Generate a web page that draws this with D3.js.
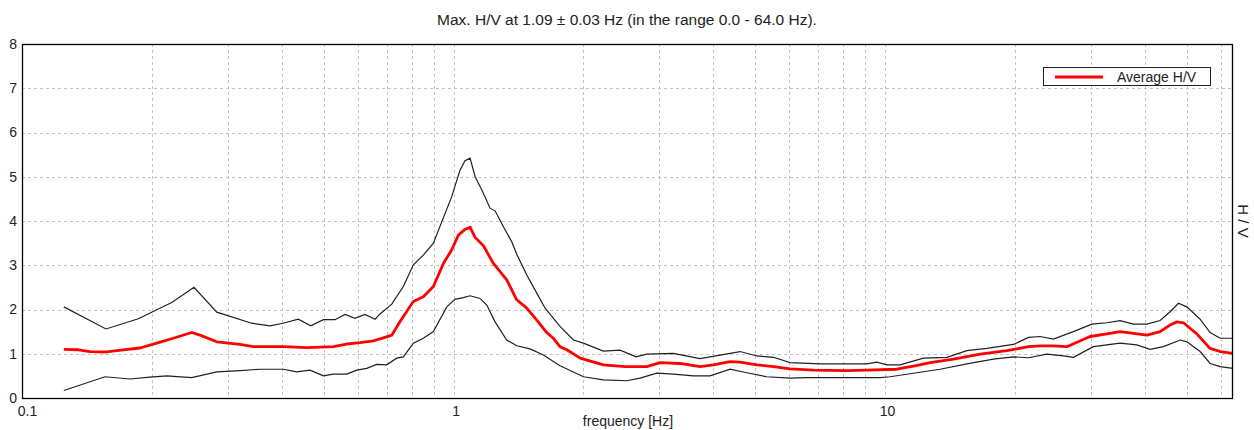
<!DOCTYPE html>
<html>
<head>
<meta charset="utf-8">
<script src="https://cdn.jsdelivr.net/npm/d3@7"></script>
<style>
  html, body { margin: 0; padding: 0; background: #fff; }
  svg { display: block; }
  text { font-family: "Liberation Sans", Arial, sans-serif; fill: #222; }
</style>
</head>
<body>
<svg id="chart" width="1254" height="430"></svg>
<script>
// ---- data ----
const titleText = "Max. H/V at 1.09 ± 0.03 Hz (in the range 0.0 - 64.0 Hz).";
const xLabel = "frequency [Hz]";
const yLabel = "H / V";
const legendLabel = "Average H/V";
const xTickValues = [0.1, 1, 10];
const xTickLabels = ["0.1", "1", "10"];
const yTickValues = [0, 1, 2, 3, 4, 5, 6, 7, 8];
const xGridValues = [0.2,0.3,0.4,0.5,0.6,0.7,0.8,0.9,1,2,3,4,5,6,7,8,9,10,20,30,40,50,60];
const yGridValues = [1, 2, 3, 4, 5, 6, 7];

const freqUpper = [0.125,0.1565,0.186,0.2223,0.2504,0.2827,0.3406,0.3755,0.4026,0.4368,0.4668,0.4993,0.5313,0.5604,0.591,0.6234,0.6578,0.6755,0.7192,0.765,0.8069,0.8511,0.898,0.939,0.9904,1.035,1.063,1.092,1.122,1.163,1.215,1.248,1.305,1.364,1.401,1.478,1.559,1.63,1.765,1.896,2.0,2.224,2.432,2.648,2.804,3.232,3.726,4.146,4.613,5.044,5.511,6.024,7.07,8.006,9.07,9.57,10.09,10.83,12.27,13.9,15.47,17.21,19.84,21.49,22.87,24.55,27.31,30.13,32.65,35.04,37.62,40.41,43.38,45.76,47.84,50.03,53.7,56.64,59.76,64];
const upper = [2.06,1.56,1.79,2.16,2.50,1.94,1.69,1.63,1.69,1.78,1.63,1.77,1.77,1.89,1.80,1.89,1.78,1.90,2.12,2.52,3.01,3.23,3.50,3.98,4.55,5.15,5.36,5.42,5.00,4.70,4.29,4.23,3.87,3.53,3.25,2.78,2.37,2.03,1.62,1.31,1.24,1.06,1.08,0.93,0.99,1.01,0.89,0.97,1.05,0.95,0.92,0.80,0.77,0.77,0.77,0.81,0.75,0.75,0.90,0.92,1.07,1.12,1.21,1.37,1.39,1.33,1.50,1.67,1.70,1.75,1.67,1.67,1.75,1.95,2.14,2.06,1.78,1.48,1.35,1.35];

const freqMean = [0.125,0.1351,0.1437,0.1571,0.1717,0.1877,0.2052,0.2242,0.2474,0.2585,0.2827,0.3201,0.3436,0.4032,0.4569,0.5265,0.5655,0.6071,0.6518,0.6876,0.7192,0.7516,0.8069,0.8511,0.898,0.9471,0.9904,1.026,1.063,1.092,1.122,1.173,1.237,1.328,1.401,1.478,1.559,1.644,1.703,1.765,1.83,1.965,2.224,2.498,2.804,3.011,3.349,3.726,4.0,4.374,4.613,5.044,5.511,6.024,6.823,8.151,9.07,10.64,11.63,12.72,14.4,16.61,19.15,21.49,22.87,24.55,26.37,29.86,32.65,35.04,37.62,40.41,43.38,45.76,47.44,49.13,52.77,56.64,59.76,64];
const mean = [1.10,1.09,1.05,1.04,1.09,1.13,1.24,1.35,1.48,1.42,1.27,1.21,1.16,1.16,1.14,1.16,1.22,1.25,1.29,1.36,1.42,1.73,2.18,2.29,2.52,3.04,3.35,3.68,3.81,3.86,3.63,3.44,3.04,2.67,2.22,2.03,1.76,1.48,1.35,1.16,1.09,0.90,0.75,0.71,0.71,0.80,0.78,0.71,0.75,0.82,0.81,0.75,0.71,0.66,0.63,0.62,0.63,0.65,0.72,0.80,0.88,0.99,1.07,1.16,1.18,1.18,1.16,1.39,1.45,1.50,1.46,1.42,1.50,1.65,1.72,1.70,1.45,1.12,1.05,1.01];

const freqLower = [0.125,0.1557,0.1779,0.198,0.2164,0.2474,0.2827,0.3201,0.3561,0.4032,0.4331,0.465,0.4993,0.5265,0.5655,0.5965,0.6291,0.6637,0.7,0.7384,0.765,0.8069,0.8511,0.898,0.9645,1.008,1.054,1.092,1.152,1.194,1.248,1.328,1.401,1.504,1.615,1.765,2.0,2.224,2.52,2.705,2.958,3.232,3.595,3.93,4.374,4.781,5.319,6.024,6.587,8.151,9.736,10.27,11.63,13.41,15.47,17.82,19.84,21.49,23.7,25.89,27.31,30.39,35.04,38.3,41.13,44.16,48.27,50.03,53.7,56.64,59.76,64];
const lower = [0.17,0.48,0.43,0.47,0.50,0.46,0.59,0.62,0.65,0.65,0.59,0.63,0.50,0.54,0.54,0.63,0.67,0.76,0.75,0.90,0.93,1.24,1.35,1.50,2.06,2.23,2.27,2.31,2.25,2.10,1.72,1.31,1.18,1.11,0.97,0.73,0.48,0.41,0.39,0.45,0.56,0.54,0.50,0.50,0.65,0.57,0.48,0.45,0.46,0.46,0.46,0.48,0.56,0.65,0.77,0.88,0.93,0.91,0.99,0.95,0.92,1.16,1.24,1.20,1.10,1.16,1.31,1.27,1.05,0.78,0.71,0.67];

// ---- layout ----
const svg = d3.select("#chart");
const L = 22, R = 1233, T = 44, B = 398;

const x = d3.scaleLog().domain([0.1, 64]).range([L, R]);
const y = d3.scaleLinear().domain([0, 8]).range([B, T]);

// grid
const grid = svg.append("g").attr("stroke", "#c4c4c4").attr("stroke-width", 1)
  .attr("stroke-dasharray", "3,3").attr("shape-rendering", "crispEdges");
grid.selectAll("line.v").data(xGridValues).join("line").attr("class", "v")
  .attr("x1", d => Math.round(x(d)) + 0.5).attr("x2", d => Math.round(x(d)) + 0.5)
  .attr("y1", T).attr("y2", B);
grid.selectAll("line.h").data(yGridValues).join("line").attr("class", "h")
  .attr("y1", d => Math.round(y(d)) + 0.5).attr("y2", d => Math.round(y(d)) + 0.5)
  .attr("x1", L).attr("x2", R);

// curves
const line = d3.line().x(d => x(d[0])).y(d => y(d[1]));
svg.append("path").datum(d3.zip(freqUpper, upper)).attr("d", line)
  .attr("fill", "none").attr("stroke", "#202020").attr("stroke-width", 1.2);
svg.append("path").datum(d3.zip(freqLower, lower)).attr("d", line)
  .attr("fill", "none").attr("stroke", "#202020").attr("stroke-width", 1.2);
svg.append("path").datum(d3.zip(freqMean, mean)).attr("d", line)
  .attr("fill", "none").attr("stroke", "#ff0000").attr("stroke-width", 2.8)
  .attr("stroke-linejoin", "round");

// frame
svg.append("rect").attr("x", L + 0.5).attr("y", T + 0.5)
  .attr("width", R - L - 1).attr("height", B - T)
  .attr("fill", "none").attr("stroke", "#000").attr("stroke-width", 1.3);

// axes (labels only)
const xAxis = d3.axisBottom(x).tickValues(xTickValues)
  .tickFormat((d, i) => xTickLabels[i]).tickSize(0).tickPadding(8);
const gx = svg.append("g").attr("transform", `translate(0,${B})`).call(xAxis);
gx.select(".domain").remove();
gx.selectAll("text").attr("font-size", 14).attr("font-family", "Liberation Sans, Arial, sans-serif")
  .attr("fill", "#222").attr("dx", (d, i) => i === 0 ? 5 : 2);

const yAxis = d3.axisLeft(y).tickValues(yTickValues).tickFormat(d3.format("d"))
  .tickSize(0).tickPadding(5);
const gy = svg.append("g").attr("transform", `translate(${L},0)`).call(yAxis);
gy.select(".domain").remove();
gy.selectAll("text").attr("font-size", 14).attr("font-family", "Liberation Sans, Arial, sans-serif")
  .attr("fill", "#222");

// title & labels
svg.append("text").attr("x", 627).attr("y", 25).attr("text-anchor", "middle")
  .attr("font-size", 15.5).text(titleText);
svg.append("text").attr("x", 628).attr("y", 426).attr("text-anchor", "middle")
  .attr("font-size", 14).text(xLabel);
svg.append("text").attr("transform", `translate(1238,221) rotate(90)`)
  .attr("text-anchor", "middle").attr("font-size", 15).text(yLabel);

// legend
const lg = svg.append("g");
lg.append("rect").attr("x", 1043.5).attr("y", 67.5).attr("width", 167).attr("height", 18)
  .attr("fill", "#fff").attr("stroke", "#222").attr("stroke-width", 1);
lg.append("line").attr("x1", 1055).attr("x2", 1103).attr("y1", 77).attr("y2", 77)
  .attr("stroke", "#ff0000").attr("stroke-width", 3);
lg.append("text").attr("x", 1117).attr("y", 82).attr("font-size", 14).text(legendLabel);
</script>
</body>
</html>
